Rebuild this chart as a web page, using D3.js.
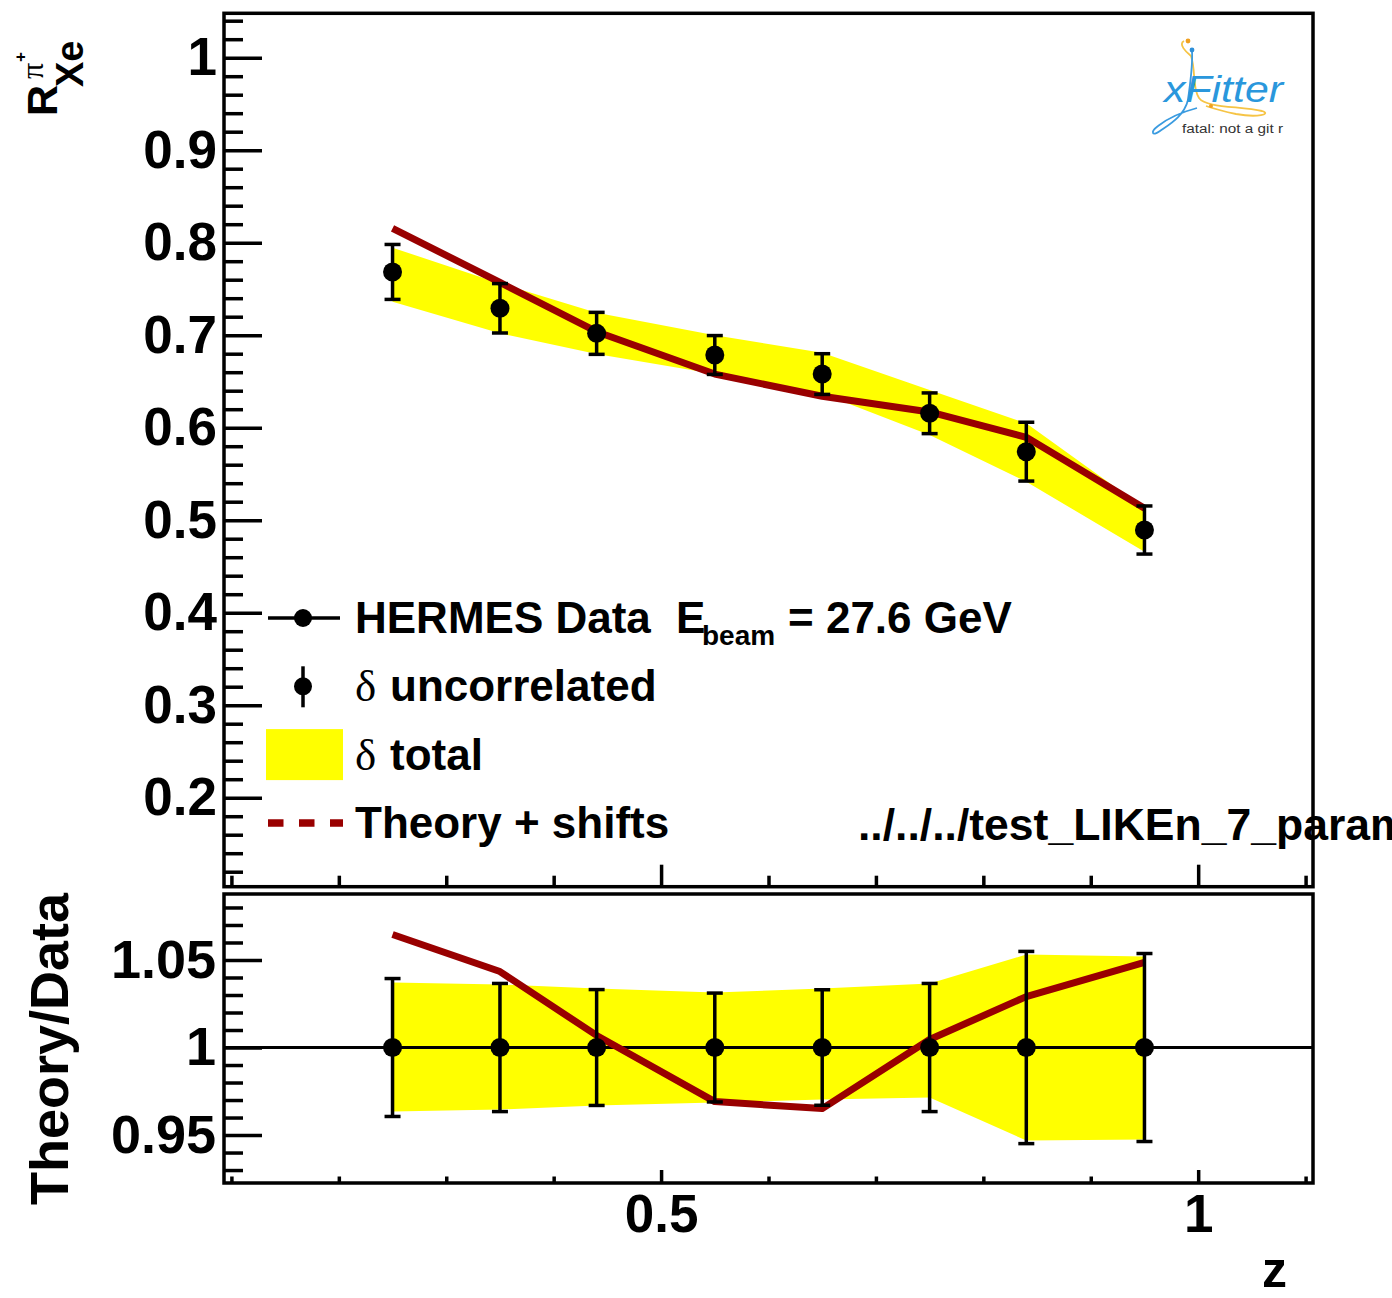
<!DOCTYPE html>
<html>
<head>
<meta charset="utf-8">
<script src="https://cdn.jsdelivr.net/npm/d3@7"></script>
<style>
  body { margin: 0; background: #fff; }
  svg { display: block; }
</style>
</head>
<body>
<script>
// HERMES pi+ multiplicity ratio on Xe versus z, with theory and theory/data panel
const zValues       = [0.25, 0.35, 0.44, 0.55, 0.65, 0.75, 0.84, 0.95];
const dataValues    = [0.7684, 0.7291, 0.7020, 0.6786, 0.6580, 0.6156, 0.5741, 0.4894];
const uncorrErrors  = [0.0297, 0.0267, 0.0227, 0.0210, 0.0220, 0.0220, 0.0318, 0.0260];
const totalBandHigh = [0.7946, 0.7560, 0.7243, 0.7000, 0.6810, 0.6408, 0.6047, 0.5129];
const totalBandLow  = [0.7362, 0.7020, 0.6797, 0.6580, 0.6370, 0.5922, 0.5416, 0.4659];
const theoryValues  = [0.8156, 0.7570, 0.7038, 0.6580, 0.6340, 0.6170, 0.5896, 0.5129];

const ratioTheory   = [1.0646, 1.0434, 1.0069, 0.9691, 0.9651, 1.0046, 1.0291, 1.0486];
const ratioUncorr   = [0.0394, 0.0366, 0.0331, 0.0311, 0.0330, 0.0366, 0.0549, 0.0537];
const ratioBandHigh = [1.0371, 1.0360, 1.0337, 1.0314, 1.0337, 1.0366, 1.0531, 1.0520];
const ratioBandLow  = [0.9634, 0.9646, 0.9669, 0.9686, 0.9703, 0.9714, 0.9469, 0.9474];

const topYTicks       = [0.2, 0.3, 0.4, 0.5, 0.6, 0.7, 0.8, 0.9, 1.0];
const topYTickLabels  = ["0.2", "0.3", "0.4", "0.5", "0.6", "0.7", "0.8", "0.9", "1"];
const ratioYTicks     = [0.95, 1.0, 1.05];
const ratioYTickLabels = ["0.95", "1", "1.05"];
const xTicks          = [0.5, 1.0];
const xTickLabels     = ["0.5", "1"];

const W = 1392, H = 1298;
const FONT = "'Liberation Sans', Arial, Helvetica, sans-serif";
const SERIF = "'Liberation Serif', 'DejaVu Serif', serif";
const DARKRED = "#990000";
const YELLOW = "#ffff00";

const svg = d3.select("body").append("svg")
  .attr("width", W).attr("height", H)
  .attr("viewBox", `0 0 ${W} ${H}`);
svg.append("rect").attr("width", W).attr("height", H).attr("fill", "#fff");

// Frames
const L = 224, R = 1313;
const topPanel = { top: 13.3, bottom: 886.7 };
const ratioPanel = { top: 894, bottom: 1183 };

const x = d3.scaleLinear().domain([0.0931, 1.1069]).range([L, R]);
const yTop = d3.scaleLinear().domain([0.1038, 1.048]).range([topPanel.bottom, topPanel.top]);
const yRat = d3.scaleLinear().domain([0.9226, 1.0877]).range([ratioPanel.bottom, ratioPanel.top]);

const pts = zValues.map((z, i) => ({
  z, v: dataValues[i], e: uncorrErrors[i], hi: totalBandHigh[i], lo: totalBandLow[i],
  th: theoryValues[i], rt: ratioTheory[i], re: ratioUncorr[i],
  rhi: ratioBandHigh[i], rlo: ratioBandLow[i]
}));

function styleAxis(g, fontSize) {
  g.select(".domain").remove();
  g.selectAll(".tick line").attr("stroke", "#000").attr("stroke-width", 3.5);
  g.selectAll(".tick text")
    .attr("fill", "#000")
    .style("font-family", FONT)
    .style("font-weight", "bold")
    .style("font-size", fontSize + "px");
}

function minorTicks(lo, hi, step, majors) {
  return d3.range(lo, hi + step / 2, step)
    .map(v => +v.toFixed(4))
    .filter(v => !majors.some(m => Math.abs(m - v) < 1e-6));
}

// ---------- Upper panel ----------
const mainG = svg.append("g");

// total uncertainty band
mainG.append("path")
  .datum(pts)
  .attr("fill", YELLOW)
  .attr("stroke", "none")
  .attr("d", d3.area().x(d => x(d.z)).y0(d => yTop(d.lo)).y1(d => yTop(d.hi)));

// theory + shifts
mainG.append("path")
  .datum(pts)
  .attr("fill", "none")
  .attr("stroke", DARKRED)
  .attr("stroke-width", 7)
  .attr("stroke-linejoin", "round")
  .attr("d", d3.line().x(d => x(d.z)).y(d => yTop(d.th)));

// data with uncorrelated errors
const mainPts = mainG.append("g").selectAll("g").data(pts).join("g");
mainPts.append("line")
  .attr("x1", d => x(d.z)).attr("x2", d => x(d.z))
  .attr("y1", d => yTop(d.v + d.e)).attr("y2", d => yTop(d.v - d.e))
  .attr("stroke", "#000").attr("stroke-width", 3.5);
[1, -1].forEach(s => {
  mainPts.append("line")
    .attr("x1", d => x(d.z) - 8).attr("x2", d => x(d.z) + 8)
    .attr("y1", d => yTop(d.v + s * d.e)).attr("y2", d => yTop(d.v + s * d.e))
    .attr("stroke", "#000").attr("stroke-width", 3.5);
});
mainPts.append("circle")
  .attr("cx", d => x(d.z)).attr("cy", d => yTop(d.v))
  .attr("r", 9.5).attr("fill", "#000");

// upper axes
const topYMinor = minorTicks(0.12, 1.04, 0.02, topYTicks);
mainG.append("g").attr("transform", `translate(${L},0)`)
  .call(d3.axisLeft(yTop).tickValues(topYMinor).tickSizeInner(-19).tickSizeOuter(0).tickFormat(""))
  .call(g => styleAxis(g, 53));
mainG.append("g").attr("transform", `translate(${L},0)`)
  .call(d3.axisLeft(yTop).tickValues(topYTicks).tickSizeInner(-38).tickSizeOuter(0).tickPadding(7)
    .tickFormat((d, i) => topYTickLabels[i]))
  .call(g => styleAxis(g, 53));

const xMinor = minorTicks(0.1, 1.1, 0.1, xTicks);
mainG.append("g").attr("transform", `translate(0,${topPanel.bottom})`)
  .call(d3.axisBottom(x).tickValues(xMinor).tickSizeInner(-11).tickSizeOuter(0).tickFormat(""))
  .call(g => styleAxis(g, 51));
mainG.append("g").attr("transform", `translate(0,${topPanel.bottom})`)
  .call(d3.axisBottom(x).tickValues(xTicks).tickSizeInner(-22).tickSizeOuter(0).tickFormat(""))
  .call(g => styleAxis(g, 51));

// y title: R^{pi+}_{Xe}
const yt = svg.append("g").attr("transform", "translate(57,116) rotate(-90)");
yt.append("text").attr("x", 0).attr("y", 0).text("R")
  .style("font-family", FONT).style("font-weight", "bold").style("font-size", "43px");
yt.append("text").attr("x", 29).attr("y", 26).text("Xe")
  .style("font-family", FONT).style("font-weight", "bold").style("font-size", "38px");
yt.append("text").attr("x", 37).attr("y", -14).text("π")
  .style("font-family", SERIF).style("font-size", "32px");
yt.append("text").attr("x", 54).attr("y", -31).text("+")
  .style("font-family", FONT).style("font-weight", "bold").style("font-size", "17px");

// legend
const leg = svg.append("g");
const legRows = [618, 686.3, 754.6, 823];
const txt = (sel, xx, yy, s, size, opts = {}) => sel.append("text")
  .attr("x", xx).attr("y", yy).text(s)
  .style("font-family", opts.serif ? SERIF : FONT)
  .style("font-weight", opts.serif ? "normal" : "bold")
  .style("font-size", size + "px");

leg.append("line").attr("x1", 268).attr("x2", 340).attr("y1", legRows[0]).attr("y2", legRows[0])
  .attr("stroke", "#000").attr("stroke-width", 3.5);
leg.append("circle").attr("cx", 303).attr("cy", legRows[0]).attr("r", 9).attr("fill", "#000");
txt(leg, 355, legRows[0] + 15, "HERMES Data", 44);
txt(leg, 676, legRows[0] + 15, "E", 44);
txt(leg, 702, legRows[0] + 27, "beam", 28);
txt(leg, 788, legRows[0] + 15, "= 27.6 GeV", 44);

leg.append("line").attr("x1", 303).attr("x2", 303).attr("y1", legRows[1] - 20).attr("y2", legRows[1] + 21)
  .attr("stroke", "#000").attr("stroke-width", 3.5);
leg.append("circle").attr("cx", 303).attr("cy", legRows[1]).attr("r", 9).attr("fill", "#000");
txt(leg, 355, legRows[1] + 15, "δ", 45, { serif: true });
txt(leg, 390, legRows[1] + 15, "uncorrelated", 44);

leg.append("rect").attr("x", 266).attr("y", legRows[2] - 25.5).attr("width", 77).attr("height", 51)
  .attr("fill", YELLOW);
txt(leg, 355, legRows[2] + 15, "δ", 45, { serif: true });
txt(leg, 390, legRows[2] + 15, "total", 44);

leg.append("line").attr("x1", 268).attr("x2", 343).attr("y1", legRows[3]).attr("y2", legRows[3])
  .attr("stroke", DARKRED).attr("stroke-width", 7.5).attr("stroke-dasharray", "15.5 15.5");
txt(leg, 355, legRows[3] + 15, "Theory + shifts", 44);

// run path label (runs past the right edge of the canvas)
txt(svg, 858, 840, "../../../test_LIKEn_7_param", 44.5);

// xFitter logo
const logo = svg.append("g");
logo.append("path")
  .attr("d", "M1184,41 C1178,44 1186,52 1191,56 C1196,70 1192,88 1199,98 C1206,108 1240,106 1262,111 C1272,114 1258,118 1236,114 C1222,111 1212,108 1206,106")
  .attr("fill", "none").attr("stroke", "#f6c445").attr("stroke-width", 1.8);
logo.append("path")
  .attr("d", "M1192,51 C1193,66 1190,84 1188,100 C1184,116 1170,124 1160,131 C1152,137 1150,132 1158,126 C1168,118 1182,112 1197,108")
  .attr("fill", "none").attr("stroke", "#3a9be0").attr("stroke-width", 1.8);
logo.append("circle").attr("cx", 1188).attr("cy", 41).attr("r", 2.4).attr("fill", "#f0a020");
logo.append("circle").attr("cx", 1192).attr("cy", 50).attr("r", 2.4).attr("fill", "#2e8fd8");
logo.append("circle").attr("cx", 1211).attr("cy", 106).attr("r", 2).attr("fill", "#f0a020");
logo.append("text").attr("x", 1164).attr("y", 102).text("xFitter")
  .attr("textLength", 119).attr("lengthAdjust", "spacingAndGlyphs")
  .style("font-family", FONT).style("font-style", "italic").style("font-size", "36px")
  .attr("fill", "#2a97dc");
logo.append("text").attr("x", 1182).attr("y", 133).text("fatal: not a git r")
  .attr("textLength", 101).attr("lengthAdjust", "spacingAndGlyphs")
  .style("font-family", FONT).style("font-size", "12px").attr("fill", "#333");

// upper frame
svg.append("rect").attr("x", L).attr("y", topPanel.top)
  .attr("width", R - L).attr("height", topPanel.bottom - topPanel.top)
  .attr("fill", "none").attr("stroke", "#000").attr("stroke-width", 3.5);

// ---------- Ratio panel ----------
const rat = svg.append("g");
rat.append("path")
  .datum(pts)
  .attr("fill", YELLOW)
  .attr("d", d3.area().x(d => x(d.z)).y0(d => yRat(d.rlo)).y1(d => yRat(d.rhi)));

rat.append("line").attr("x1", L).attr("x2", R).attr("y1", yRat(1)).attr("y2", yRat(1))
  .attr("stroke", "#000").attr("stroke-width", 3);

rat.append("path")
  .datum(pts)
  .attr("fill", "none")
  .attr("stroke", DARKRED)
  .attr("stroke-width", 7)
  .attr("stroke-linejoin", "round")
  .attr("d", d3.line().x(d => x(d.z)).y(d => yRat(d.rt)));

const ratPts = rat.append("g").selectAll("g").data(pts).join("g");
ratPts.append("line")
  .attr("x1", d => x(d.z)).attr("x2", d => x(d.z))
  .attr("y1", d => yRat(1 + d.re)).attr("y2", d => yRat(1 - d.re))
  .attr("stroke", "#000").attr("stroke-width", 3.5);
[1, -1].forEach(s => {
  ratPts.append("line")
    .attr("x1", d => x(d.z) - 8).attr("x2", d => x(d.z) + 8)
    .attr("y1", d => yRat(1 + s * d.re)).attr("y2", d => yRat(1 + s * d.re))
    .attr("stroke", "#000").attr("stroke-width", 3.5);
});
ratPts.append("circle")
  .attr("cx", d => x(d.z)).attr("cy", yRat(1))
  .attr("r", 9.5).attr("fill", "#000");

const ratYMinor = minorTicks(0.93, 1.08, 0.01, ratioYTicks);
rat.append("g").attr("transform", `translate(${L},0)`)
  .call(d3.axisLeft(yRat).tickValues(ratYMinor).tickSizeInner(-19).tickSizeOuter(0).tickFormat(""))
  .call(g => styleAxis(g, 54));
rat.append("g").attr("transform", `translate(${L},0)`)
  .call(d3.axisLeft(yRat).tickValues(ratioYTicks).tickSizeInner(-38).tickSizeOuter(0).tickPadding(8)
    .tickFormat((d, i) => ratioYTickLabels[i]))
  .call(g => styleAxis(g, 54));

rat.append("g").attr("transform", `translate(0,${ratioPanel.bottom})`)
  .call(d3.axisBottom(x).tickValues(xMinor).tickSizeInner(-6.5).tickSizeOuter(0).tickFormat(""))
  .call(g => styleAxis(g, 52));
rat.append("g").attr("transform", `translate(0,${ratioPanel.bottom})`)
  .call(d3.axisBottom(x).tickValues(xTicks).tickSizeInner(-13).tickSizeOuter(0).tickPadding(11)
    .tickFormat((d, i) => xTickLabels[i]))
  .call(g => styleAxis(g, 53));

// axis titles
svg.append("text").attr("transform", "translate(68,893) rotate(-90)")
  .attr("text-anchor", "end").text("Theory/Data")
  .style("font-family", FONT).style("font-weight", "bold").style("font-size", "54px");
svg.append("text").attr("x", 1287).attr("y", 1287).attr("text-anchor", "end").text("z")
  .style("font-family", FONT).style("font-weight", "bold").style("font-size", "50px");

// ratio frame
svg.append("rect").attr("x", L).attr("y", ratioPanel.top)
  .attr("width", R - L).attr("height", ratioPanel.bottom - ratioPanel.top)
  .attr("fill", "none").attr("stroke", "#000").attr("stroke-width", 3.5);
</script>
</body>
</html>
